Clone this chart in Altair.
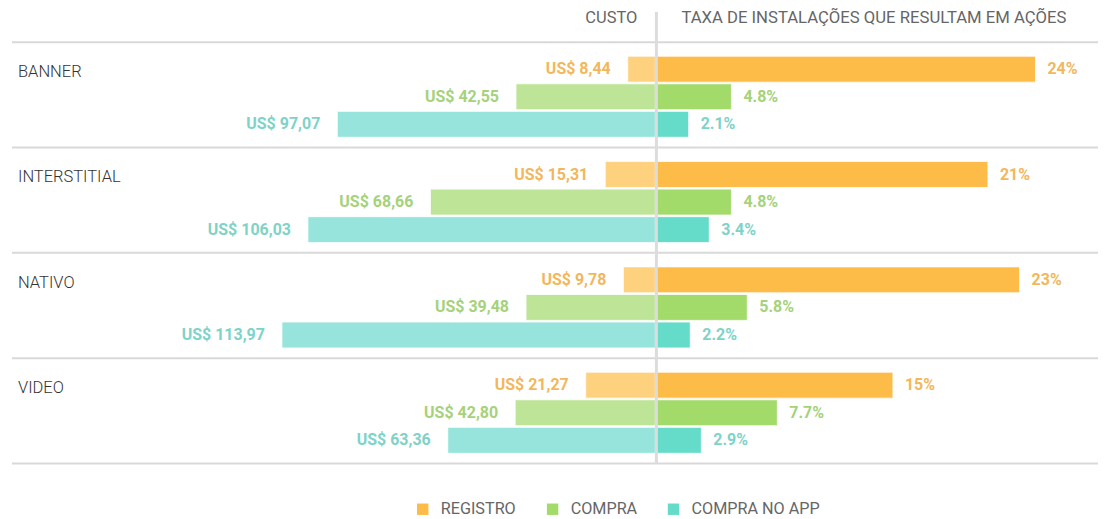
import altair as alt
import pandas as pd

# ---- data ----
groups = ["BANNER", "INTERSTITIAL", "NATIVO", "VIDEO"]
series = ["REGISTRO", "COMPRA", "COMPRA NO APP"]
cost_registro = [8.44, 15.31, 9.78, 21.27]
cost_compra = [42.55, 68.66, 39.48, 42.80]
cost_app = [97.07, 106.03, 113.97, 63.36]
rate_registro = [24, 21, 23, 15]
rate_compra = [4.8, 4.8, 5.8, 7.7]
rate_app = [2.1, 3.4, 2.2, 2.9]

# ---- styles ----
light_colors = ["#FDD17E", "#BEE497", "#96E4DC"]
dark_colors = ["#FDBB47", "#A2DB6A", "#65DBC9"]
text_colors = ["#F2B75C", "#A5D27A", "#7ED3C8"]
FONT = "Roboto"

W, H = 1091, 498
MID = 648            # centre line, px from the left of the plot
ROW = 27.6           # px per row
YMAX = H / ROW
GROUP_STEP = 3.82
FIRST = 2.21

costs = [cost_registro, cost_compra, cost_app]
rates = [rate_registro, rate_compra, rate_app]
rows = []
for gi, g in enumerate(groups):
    for si, s in enumerate(series):
        c = costs[si][gi]
        r = rates[si][gi]
        rows.append({
            "group": g, "gi": gi, "series": s, "si": si,
            "cost": c, "rate": r,
            "cost_label": "US$ " + f"{c:.2f}".replace(".", ","),
            "rate_label": f"{r:g}%",
        })
df = pd.DataFrame(rows)
gdf = pd.DataFrame({"group": groups, "gi": list(range(len(groups)))})
sdf = pd.DataFrame({"k": list(range(len(groups) + 1))})

yscale = alt.Scale(domain=[0, YMAX], reverse=True, nice=False, zero=False)
xl = alt.Scale(domain=[0, MID / 3.28], range=[MID, 0], nice=False, zero=True)
xr = alt.Scale(domain=[0, (W - MID) / 15.85], range=[MID, W], nice=False, zero=True)

base = alt.Chart(df).transform_calculate(
    pos=f"{FIRST} + datum.gi * {GROUP_STEP} + datum.si",
).transform_calculate(
    y0="datum.pos - 0.47", y1="datum.pos + 0.47"
)

seps = alt.Chart(sdf).transform_calculate(
    sy=f"{FIRST - 0.98} + datum.k * {GROUP_STEP}"
).mark_rule(color="#d9d9d9", strokeWidth=2).encode(
    y=alt.Y("sy:Q", scale=yscale, axis=None),
    x=alt.value(4), x2=alt.value(W),
)

left_bars = base.mark_bar(stroke="white", strokeWidth=0.8).encode(
    x=alt.X("cost:Q", scale=xl, axis=None), x2=alt.datum(0),
    y=alt.Y("y0:Q", scale=yscale, axis=None), y2="y1:Q",
    color=alt.Color("series:N", scale=alt.Scale(domain=series, range=light_colors), legend=None),
)
left_text = base.mark_text(align="right", baseline="middle", dx=-17, font=FONT,
                           fontSize=16, fontWeight="bold").encode(
    x=alt.X("cost:Q", scale=xl, axis=None),
    y=alt.Y("pos:Q", scale=yscale, axis=None),
    text="cost_label:N",
    color=alt.Color("series:N", scale=alt.Scale(domain=series, range=text_colors), legend=None),
)
right_bars = base.mark_bar(stroke="white", strokeWidth=0.8).encode(
    x=alt.X("rate:Q", scale=xr, axis=None), x2=alt.datum(0),
    y=alt.Y("y0:Q", scale=yscale, axis=None), y2="y1:Q",
    color=alt.Color(
        "series:N",
        scale=alt.Scale(domain=series, range=dark_colors),
        legend=alt.Legend(
            title=None, orient="none", direction="horizontal",
            legendX=407, legendY=H - 5,
            symbolType="square", symbolSize=130, symbolStrokeWidth=0,
            labelFont=FONT, labelFontSize=16.2, labelColor="#666666",
            labelOffset=10, columnPadding=28,
        ),
    ),
)
right_text = base.mark_text(align="left", baseline="middle", dx=12, font=FONT,
                            fontSize=16, fontWeight="bold").encode(
    x=alt.X("rate:Q", scale=xr, axis=None),
    y=alt.Y("pos:Q", scale=yscale, axis=None),
    text="rate_label:N",
    color=alt.Color("series:N", scale=alt.Scale(domain=series, range=text_colors), legend=None),
)
group_text = alt.Chart(gdf).transform_calculate(
    gy=f"{FIRST + 0.1} + datum.gi * {GROUP_STEP}"
).mark_text(align="left", baseline="middle", font=FONT, fontSize=16.5,
            fontWeight=300, color="#333333").encode(
    x=alt.value(10),
    y=alt.Y("gy:Q", scale=yscale, axis=None),
    text="group:N",
)
head_df = pd.DataFrame({"t": ["CUSTO"], "hy": [0.36]})
left_head = alt.Chart(head_df).mark_text(
    align="right", baseline="middle", font=FONT, fontSize=16.5, color="#666666"
).encode(x=alt.value(MID - 18), y=alt.Y("hy:Q", scale=yscale, axis=None), text="t:N")
head_df2 = pd.DataFrame({"t": ["TAXA DE INSTALAÇÕES QUE RESULTAM EM AÇÕES"], "hy": [0.36]})
right_head = alt.Chart(head_df2).mark_text(
    align="left", baseline="middle", font=FONT, fontSize=16.7, color="#666666"
).encode(x=alt.value(MID + 26), y=alt.Y("hy:Q", scale=yscale, axis=None), text="t:N")
center = alt.Chart(pd.DataFrame({"a": [0.14], "b": [FIRST - 0.98 + 4 * GROUP_STEP]})).mark_rule(
    color="#dcdcdc", strokeWidth=3
).encode(x=alt.value(MID + 1), y=alt.Y("a:Q", scale=yscale, axis=None), y2="b:Q")

chart = alt.layer(
    seps, left_bars, right_bars, left_text, right_text, group_text,
    left_head, right_head, center,
).resolve_scale(color="independent", x="independent").properties(
    width=W, height=H, padding=0
).configure_view(stroke=None)

chart.save("out.html", embed_options={"renderer": "svg", "actions": False})
